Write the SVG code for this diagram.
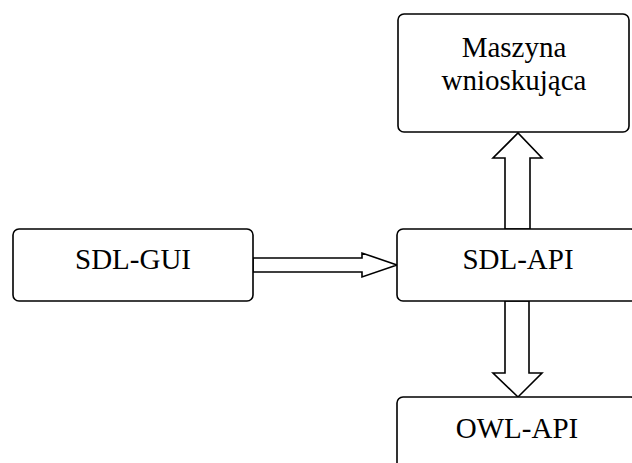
<svg xmlns="http://www.w3.org/2000/svg" width="632" height="463" viewBox="0 0 632 463">
<style>
.box{fill:#fff;stroke:#000;stroke-width:1.6}
.arr{fill:#fff;stroke:#000;stroke-width:1.6;stroke-linejoin:miter}
text{font-family:"Liberation Serif","Times New Roman",serif;font-size:29px;fill:#000;text-anchor:middle}
</style>
<rect width="632" height="463" fill="#fff"/>
<g id="connectors">
<polygon class="arr" points="253,258 362,258 362,253 397,265 362,277 362,272 253,272"/>
<polygon class="arr" points="505,229 505,158 493,158 518,133 542,158 530,158 530,229"/>
<polygon class="arr" points="505,301 505,373 493,373 518,397 542,373 529,373 529,301"/>
</g>
<g id="maszyna">
<rect class="box" x="398" y="14" width="231" height="118" rx="6"/>
<text x="514" y="57">Maszyna</text>
<text x="514" y="90">wnioskująca</text>
</g>
<g id="sdl-gui">
<rect class="box" x="13" y="229" width="240" height="72" rx="6"/>
<text x="133" y="269">SDL-GUI</text>
</g>
<g id="sdl-api">
<rect class="box" x="397" y="229" width="240" height="72" rx="6"/>
<text x="518" y="269">SDL-API</text>
</g>
<g id="owl-api">
<rect class="box" x="397" y="397" width="240" height="80" rx="6"/>
<text x="517" y="438">OWL-API</text>
</g>
</svg>
